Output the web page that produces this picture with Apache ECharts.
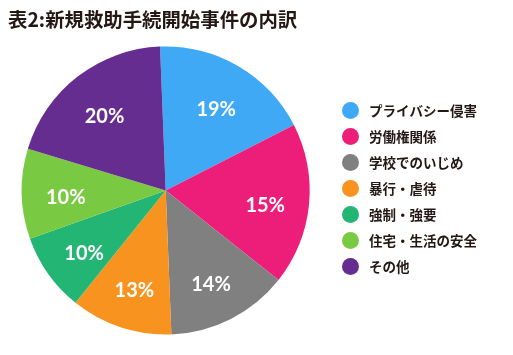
<!DOCTYPE html>
<html><head><meta charset="utf-8">
<script src="https://cdn.jsdelivr.net/npm/echarts@6/dist/echarts.min.js"></script>
<style>html,body{margin:0;padding:0;background:#fff}#c{width:513px;height:355px}</style>
</head><body><div id="c"></div>
<script>
// Categories (legend order, clockwise from top)
const categories = ['プライバシー侵害','労働権関係','学校でのいじめ','暴行・虐待','強制・強要','住宅・生活の安全','その他'];
// Printed percentage labels
const labelPercents = [19, 15, 14, 13, 10, 10, 20];
// Slice sizes as drawn in the picture (percent of the circle, measured)
const sliceSizes = [18.1, 18.2, 13.7, 11.4, 8.8, 10.1, 19.7];
const colors = ['#3FA9F5','#ED1E79','#808080','#F7931E','#22B573','#7AC943','#662D91'];

const data = categories.map((name, i) => ({ name, value: sliceSizes[i], pct: labelPercents[i] }));
const chart = echarts.init(document.getElementById('c'), null, { renderer: 'canvas' });
chart.setOption({
  animation: false,
  color: colors,
  title: {
    text: '表2:新規救助手続開始事件の内訳',
    left: 3, top: 5,
    textStyle: { fontFamily: '"Noto Sans CJK JP"', fontSize: 19.4, fontWeight: 'bold', color: '#231815' }
  },
  legend: {
    orient: 'vertical', left: 342, top: 102, padding: 0,
    icon: 'circle', itemWidth: 17, itemHeight: 17, itemGap: 9,
    data: categories,
    textStyle: { fontFamily: '"Noto Sans CJK JP"', fontSize: 13.5, fontWeight: 'bold', color: '#231815', padding: [0,0,0,5] }
  },
  series: [
    {
      type: 'pie', center: [165.7, 190.5], radius: 144, startAngle: 92.26,
      clockwise: true, silent: true, label: { show: false }, labelLine: { show: false },
      data: data
    },
    {
      type: 'pie', center: [165.7, 190.5], radius: [50, 144], startAngle: 92.26,
      clockwise: true, silent: true, legendHoverLink: false,
      itemStyle: { color: 'rgba(0,0,0,0)' },
      label: {
        show: true, position: 'inside', offset: [0, 5],
        formatter: p => p.data.pct + '%',
        fontFamily: 'Lato', fontWeight: 'bold', fontSize: 20, color: '#fff'
      },
      labelLine: { show: false },
      data: data.map(d => ({ name: d.name + ' ', value: d.value, pct: d.pct }))
    }
  ]
});
</script></body></html>
